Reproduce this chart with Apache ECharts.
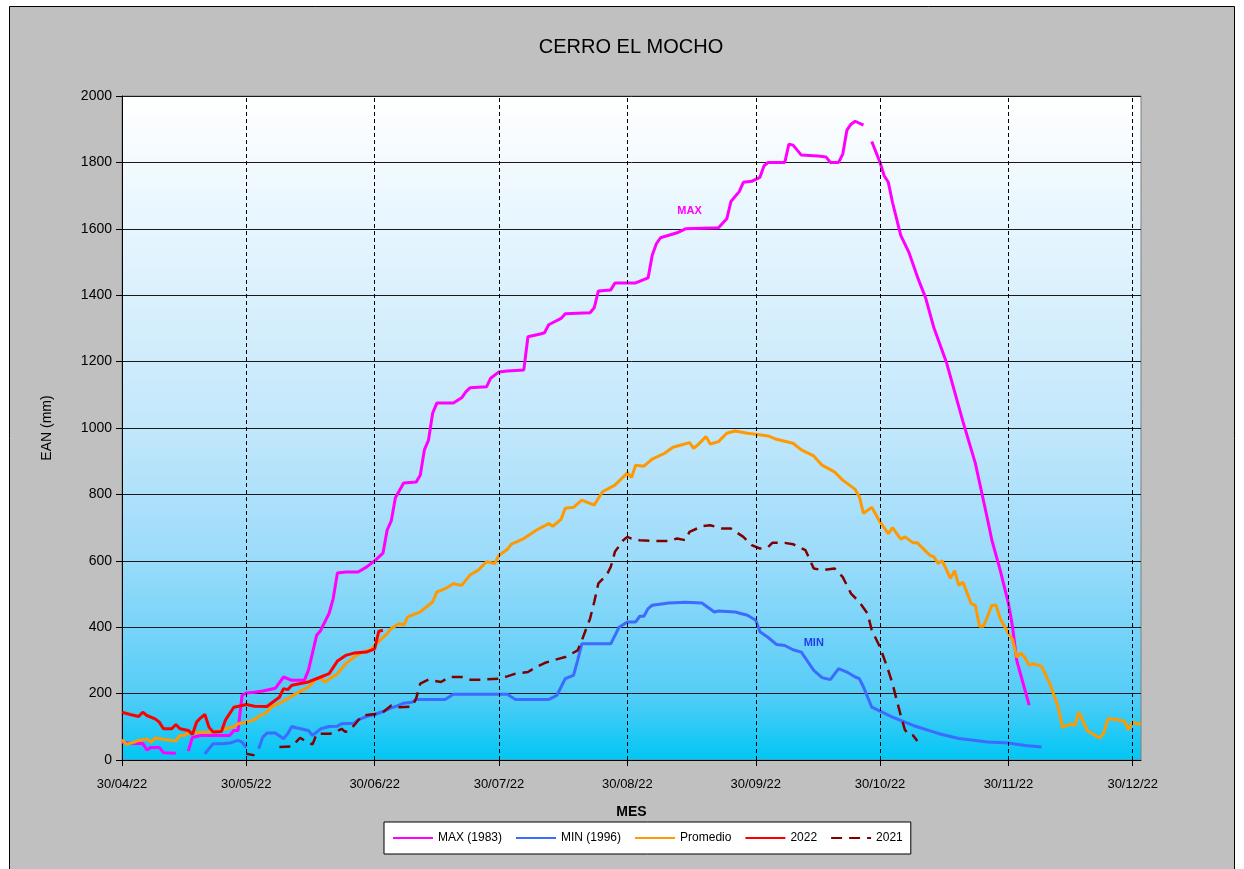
<!DOCTYPE html>
<html>
<head>
<meta charset="utf-8">
<title>CERRO EL MOCHO</title>
<script src="https://cdn.jsdelivr.net/npm/echarts@6/dist/echarts.min.js"></script>
<style>
  html, body { margin: 0; padding: 0; background: #fff; }
  #main { width: 1244px; height: 869px; }
</style>
</head>
<body>
<div id="main"></div>
<script>
// eje X: días contados desde el 30/04/22
const startDate = Date.UTC(2022, 3, 30);
const tickDays = [0, 30, 61, 91, 122, 153, 183, 214, 244];

// [día, EAN mm]  (null = sin dato)
const maxData = [[0,53],[3,50],[5,50],[6,30],[7,38],[9,38],[10,22],[13,20],[15,null],
  [16,27],[17,68],[19,74],[26,74],[27,89],[28,89],[29,195],[30,202],[32,204],[34,208],[37,216],
  [39,250],[41,240],[44,240],[45,270],[47,376],[48,391],[50,442],[51,487],[52,563],[54,566],
  [57,566],[59,581],[61,600],[63,623],[64,692],[65,720],[66,790],[68,834],[71,837],[72,858],
  [73,934],[74,964],[75,1045],[76,1075],[80,1075],[82,1091],[83,1109],[84,1121],[88,1124],
  [89,1150],[91,1169],[93,1172],[97,1175],[98,1275],[101,1283],[102,1287],[103,1311],[106,1330],
  [107,1344],[113,1347],[114,1362],[115,1413],[118,1416],[119,1437],[124,1437],[127,1452],
  [128,1520],[129,1555],[130,1573],[134,1588],[136,1600],[144,1603],[146,1630],[147,1682],
  [149,1712],[150,1740],[152,1743],[154,1755],[155,1790],[156,1800],[160,1800],[161,1855],
  [162,1852],[164,1822],[168,1819],[170,1816],[171,1800],[173,1800],[174,1825],[175,1897],
  [176,1915],[177,1924],[179,1912],[180,null],[181,1863],[183,1800],[184,1760],[185,1740],
  [186,1680],[188,1580],[190,1528],[192,1456],[194,1392],[196,1302],[199,1199],[203,1020],
  [206,894],[209,722],[210,662],[212,572],[214,472],[215,400],[216,300],[219,165]];

const minData = [[20,19],[22,49],[24,49],[26,51],[28,59],[29,54],[30,37],[31,null],[33,34],
  [34,69],[35,81],[37,81],[39,64],[40,79],[41,101],[42,97],[45,89],[46,74],[48,94],[50,101],
  [52,102],[53,109],[56,111],[57,121],[59,131],[61,137],[63,146],[65,157],[66,161],[68,171],
  [70,174],[71,182],[78,182],[80,198],[93,198],[95,182],[103,182],[105,195],[106,220],[107,245],
  [109,255],[110,300],[111,350],[118,350],[120,400],[122,416],[124,416],[125,433],[126,433],
  [127,456],[128,466],[132,473],[136,475],[140,473],[143,446],[144,449],[148,446],[151,436],
  [153,421],[154,386],[156,369],[158,348],[160,345],[162,332],[164,325],[167,270],[169,248],
  [171,242],[173,275],[175,265],[177,250],[178,245],[179,220],[181,159],[186,129],[191,104],
  [197,80],[202,65],[209,54],[214,51],[218,44],[222,39]];

const promData = [[0,62],[1,47],[3,54],[4,59],[6,63],[7,54],[8,66],[12,59],[13,58],[14,74],
  [15,74],[16,81],[21,84],[24,89],[25,94],[27,101],[28,109],[30,114],[32,122],[33,131],[35,144],
  [36,159],[38,171],[40,185],[42,200],[45,220],[47,245],[48,245],[49,235],[52,260],[54,290],
  [56,310],[58,325],[60,332],[61,345],[64,381],[65,396],[67,411],[68,406],[69,431],[72,446],
  [75,476],[76,506],[78,516],[80,531],[82,526],[84,557],[86,572],[88,597],[90,592],[91,617],
  [93,634],[94,650],[97,667],[100,692],[103,712],[104,704],[106,725],[107,758],[109,761],
  [111,783],[114,768],[116,808],[119,828],[122,865],[123,851],[124,888],[126,885],[128,906],
  [131,924],[133,942],[135,949],[137,956],[138,939],[139,949],[141,974],[142,952],[144,959],
  [146,984],[148,991],[151,984],[153,981],[156,976],[158,966],[162,954],[164,934],[167,916],
  [169,888],[172,868],[174,843],[177,815],[178,793],[179,743],[181,761],[183,717],[185,682],
  [186,700],[188,665],[189,672],[191,654],[192,654],[195,617],[196,612],[197,592],[198,600],
  [199,574],[200,547],[201,570],[202,526],[203,536],[205,471],[206,466],[207,403],[208,403],
  [210,466],[211,466],[212,426],[214,381],[215,363],[216,310],[217,322],[218,308],[219,285],
  [220,290],[222,282],[224,230],[226,160],[227,99],[229,109],[230,104],[231,144],[233,89],
  [236,66],[237,81],[238,124],[240,122],[242,117],[243,91],[244,114],[246,107]];

const data2022 = [[0,144],[2,137],[4,131],[5,144],[6,134],[8,124],[9,114],[10,94],[12,94],
  [13,107],[14,94],[16,89],[17,77],[18,114],[19,127],[20,137],[21,99],[22,84],[24,86],[25,121],
  [27,159],[29,164],[30,167],[32,162],[35,161],[37,180],[38,189],[39,215],[40,212],[41,225],
  [45,235],[48,250],[50,260],[52,298],[54,315],[56,322],[59,325],[61,335],[62,388],[63,391]];

const data2021 = [[30,19],[32,14],[35,null],[38,39],[41,41],[42,54],[43,67],[44,59],[46,47],
  [47,79],[50,79],[51,80],[53,94],[54,84],[56,104],[58,134],[60,137],[62,139],[63,144],[65,164],
  [67,159],[70,161],[71,185],[72,230],[74,242],[77,235],[79,250],[82,250],[84,242],[87,242],
  [91,245],[93,252],[95,260],[98,265],[100,280],[102,292],[104,300],[107,310],[110,330],
  [111,360],[113,426],[114,476],[115,532],[117,557],[118,582],[119,627],[121,662],[122,672],
  [123,667],[125,662],[128,660],[132,660],[134,667],[136,662],[137,687],[140,704],[142,707],
  [145,697],[147,697],[150,672],[152,647],[154,637],[156,642],[157,654],[160,654],[162,650],
  [165,632],[167,577],[169,572],[172,577],[174,551],[176,501],[178,476],[180,441],[181,391],
  [183,340],[185,270],[186,230],[188,134],[189,91],[190,74],[191,74],[192,57]];

// rótulos MAX / MIN dentro del gráfico
const maxLabelAt = [137, 1655];
const minLabelAt = [167, 354];

const font = "'Liberation Sans', Arial, sans-serif";

function fmtDay(d) {
  const t = new Date(startDate + d * 86400000);
  const dd = String(t.getUTCDate()).padStart(2, "0");
  const mm = String(t.getUTCMonth() + 1).padStart(2, "0");
  const yy = String(t.getUTCFullYear()).slice(2);
  return dd + "/" + mm + "/" + yy;
}

function prep(arr) {
  return arr.map(p => [p[0], p[1] === null ? "-" : p[1]]);
}

function lineSeries(name, data, color, extra) {
  return Object.assign({
    name: name,
    type: "line",
    data: prep(data),
    symbol: "none",
    showSymbol: false,
    connectNulls: false,
    lineStyle: { color: color, width: 3 },
    itemStyle: { color: color },
    z: 3
  }, extra || {});
}

function textMark(pos, text, color) {
  return {
    symbol: "circle",
    symbolSize: 1,
    itemStyle: { color: "rgba(0,0,0,0)" },
    label: { show: true, position: "inside", formatter: text, color: color, fontWeight: "bold", fontSize: 11, fontFamily: font },
    data: [{ coord: pos }]
  };
}

let myChart = echarts.init(document.getElementById("main"));

let option = {
  animation: false,
  backgroundColor: "#ffffff",
  textStyle: { fontFamily: font, color: "#000" },
  graphic: [
    {
      type: "rect",
      z: -100,
      silent: true,
      shape: { x: 9.5, y: 6.5, width: 1225, height: 880 },
      style: { fill: "#C0C0C0", stroke: "#000", lineWidth: 1 }
    }
  ],
  title: {
    text: "CERRO EL MOCHO",
    left: 626,
    top: 32,
    textAlign: "center",
    textStyle: { fontSize: 20, fontWeight: "normal", color: "#000", fontFamily: font }
  },
  legend: {
    data: ["MAX (1983)", "MIN (1996)", "Promedio", "2022", "2021"],
    left: 384,
    top: 822,
    itemWidth: 40,
    itemHeight: 12,
    itemGap: 13,
    padding: [10, 8],
    backgroundColor: "#ffffff",
    borderColor: "#000",
    borderWidth: 1,
    itemStyle: { color: "rgba(0,0,0,0)", borderColor: "rgba(0,0,0,0)", borderWidth: 0, opacity: 0 },
    textStyle: { fontSize: 12, color: "#000", fontFamily: font }
  },
  grid: {
    left: 122,
    right: 103,
    top: 96,
    bottom: 109,
    show: true,
    borderColor: "#808080",
    borderWidth: 1,
    backgroundColor: new echarts.graphic.LinearGradient(0, 0, 0, 1, [
      { offset: 0, color: "#FFFFFF" },
      { offset: 0.2, color: "#E6F5FE" },
      { offset: 0.5, color: "#C2E7FB" },
      { offset: 0.7, color: "#9ADBFA" },
      { offset: 0.9, color: "#55CDF7" },
      { offset: 1, color: "#00C6F5" }
    ])
  },
  xAxis: {
    type: "value",
    min: 0,
    max: 246,
    name: "MES",
    nameLocation: "middle",
    nameGap: 45,
    nameTextStyle: { fontSize: 14, fontWeight: "bold", color: "#000", fontFamily: font },
    axisLine: { show: true, lineStyle: { color: "#000", width: 1 } },
    axisTick: { show: true, customValues: tickDays, length: 6, lineStyle: { color: "#000" } },
    axisLabel: { customValues: tickDays, formatter: fmtDay, fontSize: 13, color: "#000", margin: 18, fontFamily: font },
    splitLine: { show: false }
  },
  yAxis: {
    type: "value",
    min: 0,
    max: 2000,
    interval: 200,
    name: "EAN (mm)",
    nameLocation: "middle",
    nameGap: 68,
    nameRotate: 90,
    nameTextStyle: { fontSize: 14, color: "#000", fontFamily: font },
    axisLine: { show: true, lineStyle: { color: "#000", width: 1 } },
    axisTick: { show: true, length: 6, lineStyle: { color: "#000" } },
    axisLabel: { fontSize: 14, color: "#000", margin: 10, fontFamily: font, formatter: v => String(v) },
    splitLine: { show: true, lineStyle: { color: "#1a1a1a", width: 1 } }
  },
  series: [
    // líneas verticales punteadas de cada mes
    {
      type: "line",
      data: [],
      z: 1,
      silent: true,
      markLine: {
        silent: true,
        symbol: "none",
        label: { show: false },
        lineStyle: { color: "#000", type: [4, 3], width: 1 },
        data: tickDays.slice(1).map(d => ({ xAxis: d }))
      }
    },
    lineSeries("MAX (1983)", maxData, "#FF00FF", { markPoint: textMark(maxLabelAt, "MAX", "#FF00FF") }),
    lineSeries("MIN (1996)", minData, "#3D6BFF", { markPoint: textMark(minLabelAt, "MIN", "#1F3FEF") }),
    lineSeries("Promedio", promData, "#FF9900"),
    lineSeries("2022", data2022, "#FF0000"),
    lineSeries("2021", data2021, "#800000", { lineStyle: { color: "#800000", width: 2.5, type: [11, 7] } })
  ]
};

option && myChart.setOption(option);
</script>
</body>
</html>
